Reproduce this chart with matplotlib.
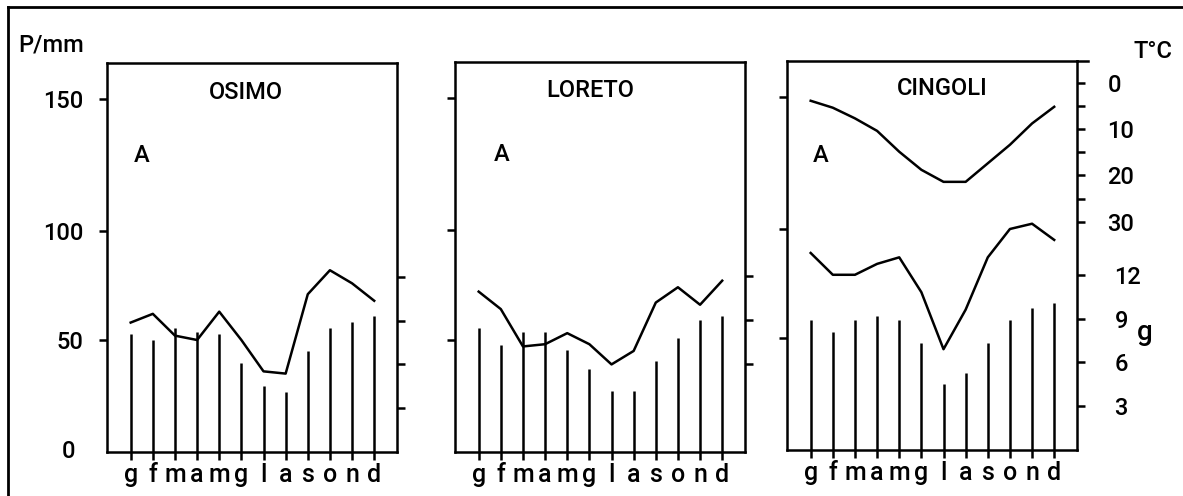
import numpy as np
import matplotlib
matplotlib.use("Agg")
import matplotlib.pyplot as plt
from matplotlib.lines import Line2D
import matplotlib.transforms as mtransforms

# ---- data -------------------------------------------------------------
months = ["g", "f", "m", "a", "m", "g", "l", "a", "s", "o", "n", "d"]
stations = ["OSIMO", "LORETO", "CINGOLI"]

# monthly precipitation (mm)
precip_osimo = [58, 62, 52, 50, 63, 50, 36, 35, 71, 82, 76, 68]
precip_loreto = [72, 64, 47, 48, 53, 48, 39, 45, 67, 74, 66, 77]
precip_cingoli = [89, 79, 79, 84, 87, 71, 45, 63, 87, 100, 102, 95]

# rainy days per month
days_osimo = [8.1, 7.7, 8.5, 8.2, 8.1, 6.1, 4.5, 4.1, 6.9, 8.5, 8.9, 9.3]
days_loreto = [8.5, 7.3, 8.2, 8.2, 7.0, 5.7, 4.2, 4.2, 6.2, 7.8, 9.0, 9.3]
days_cingoli = [8.9, 8.1, 8.9, 9.2, 8.9, 7.3, 4.5, 5.3, 7.3, 8.9, 9.7, 10.1]

# mean monthly temperature (°C), Cingoli only
temp_cingoli = [3.9, 5.4, 7.7, 10.4, 14.9, 18.8, 21.4, 21.4, 17.4, 13.4, 8.8, 5.2]

precip_ticks = [50, 100, 150]
precip_ticklabels = ["50", "100", "150"]
day_ticks = [3, 6, 9, 12]
day_ticklabels = ["3", "6", "9", "12"]
temp_ticks = [0, 5, 10, 15, 20, 25, 30]
temp_ticklabels = ["0", "", "10", "", "20", "", "30"]

# ---- layout -----------------------------------------------------------
W, H = 1183, 496
plt.rcParams["font.family"] = ["Roboto", "DejaVu Sans"]
plt.rcParams["font.weight"] = "medium"
fig = plt.figure(figsize=(W / 100, H / 100), dpi=100)
fig.patch.set_facecolor("white")

LW = 1.8
FS = 17


def px_box(left, top, right, bottom):
    return [left / W, 1 - bottom / H, (right - left) / W, (bottom - top) / H]


# the printed precipitation scale has uneven spacing between its ticks
P_KNOTS = [0, 50, 100, 150, 300]
U_KNOTS = [0, 112, 221, 353, 749]


def p_fwd(v):
    return np.interp(v, P_KNOTS, U_KNOTS)


def p_inv(u):
    return np.interp(u, U_KNOTS, P_KNOTS)


boxes = [px_box(107, 63, 397, 452), px_box(455, 62, 745, 452), px_box(787, 61, 1077, 450)]
precips = [precip_osimo, precip_loreto, precip_cingoli]
days = [days_osimo, days_loreto, days_cingoli]
title_pos = [(0.479, 0.925), (0.466, 0.928), (0.534, 0.930)]
a_pos = [(0.12, 0.763), (0.162, 0.763), (0.117, 0.758)]
right_ticks = [day_ticks, day_ticks[1:], day_ticks]

x = np.arange(len(months))
P_TOP = 150 + (389 - 353) / 132 * 50
D_TOP = 389 / 14.6

for i, (box, name) in enumerate(zip(boxes, stations)):
    ax = fig.add_axes(box)
    ax.set_facecolor("none")
    ax.set_yscale("function", functions=(p_fwd, p_inv))
    ax.set_xlim(-1.07, 12.03)
    ax.set_ylim(0, P_TOP)
    for sp in ax.spines.values():
        sp.set_linewidth(LW)

    ax.plot(x, precips[i], color="black", lw=LW, solid_joinstyle="round")

    ax.set_yticks(precip_ticks)
    ax.yaxis.set_minor_locator(matplotlib.ticker.NullLocator())
    if i == 0:
        ax.set_yticklabels(precip_ticklabels)
    else:
        ax.set_yticklabels([])
    ax.tick_params(axis="y", direction="out", length=6, width=LW,
                   labelsize=FS, pad=11)
    ax.set_xticks(x)
    ax.set_xticklabels(months)
    ax.tick_params(axis="x", direction="out", length=6, width=LW,
                   labelsize=FS + 1, pad=2)

    ax.text(*title_pos[i], name, transform=ax.transAxes, ha="center",
            va="center", fontsize=FS)
    ax.text(*a_pos[i], "A", transform=ax.transAxes, ha="center",
            va="center", fontsize=FS)

    # rainy days as vertical strokes on a right-hand scale
    axd = ax.twinx()
    axd.set_ylim(0, D_TOP)
    for sp in axd.spines.values():
        sp.set_visible(False)
    axd.vlines(x, 0, days[i], color="black", lw=LW)
    axd.set_yticks(right_ticks[i])
    if i == 2:
        axd.set_yticklabels(day_ticklabels)
    else:
        axd.set_yticklabels([])
    axd.tick_params(axis="y", direction="out", length=6, width=LW,
                    labelsize=FS, pad=21)

    if i == 0:
        trans = mtransforms.blended_transform_factory(ax.transAxes, ax.transData)
        ax.text(-0.134, 0, "0", transform=trans, ha="center", va="center",
                fontsize=FS)

    if i == 2:
        # inverted temperature scale in the upper part of the right axis
        axt = ax.twinx()
        axt.set_ylim(0 + 367.3 / 4.633, -21.7 / 4.633)
        for sp in axt.spines.values():
            sp.set_visible(False)
        axt.plot(x, temp_cingoli, color="black", lw=LW, solid_joinstyle="round")
        axt.set_yticks(temp_ticks)
        axt.set_yticklabels(temp_ticklabels)
        axt.tick_params(axis="y", direction="out", length=6, width=LW,
                        labelsize=FS, pad=16)
        ax.add_line(Line2D([1, 1.038], [1, 1], transform=ax.transAxes,
                           color="black", lw=LW, clip_on=False))

# axis captions
fig.text(51 / W, 1 - 45 / H, "P/mm", ha="center", va="center", fontsize=FS)
fig.text(1153 / W, 1 - 52 / H, "T°C", ha="center", va="center", fontsize=FS)
fig.text(1145 / W, 1 - 333 / H, "g", ha="center", va="center", fontsize=FS + 3)

# page frame (top and left edges)
fig.add_artist(Line2D([8 / W, 1], [1 - 7 / H, 1 - 7 / H],
                      transform=fig.transFigure, color="black", lw=2))
fig.add_artist(Line2D([8 / W, 8 / W], [0, 1 - 7 / H],
                      transform=fig.transFigure, color="black", lw=2))

fig.savefig("out.png", dpi=100, facecolor="white")
